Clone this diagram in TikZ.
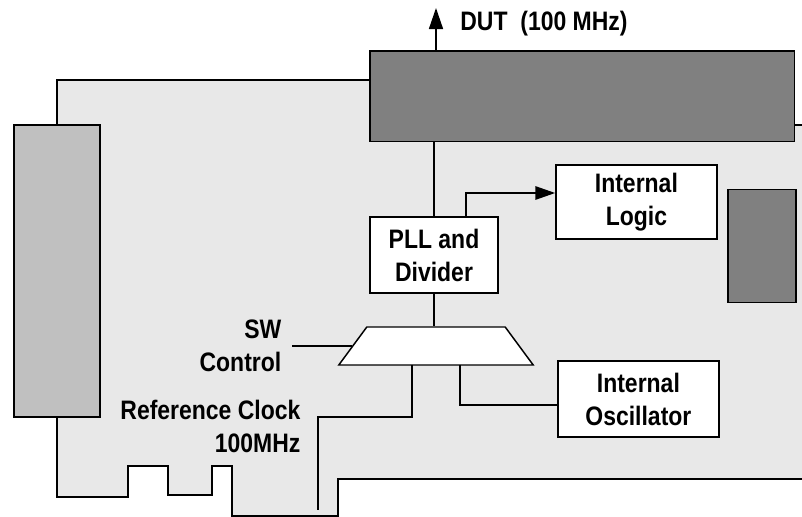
\documentclass[tikz,border=0pt]{standalone}
\usepackage{fontspec}
\setmainfont{Liberation Sans}[FakeStretch=0.86]
\usepackage{tikz}
\usetikzlibrary{arrows.meta, positioning, shapes.geometric}
\definecolor{boardgray}{HTML}{E8E8E8}
\definecolor{darkgray}{HTML}{808080}
\definecolor{midgray}{HTML}{C0C0C0}
\tikzset{
    lbl/.style={font=\fontsize{19}{23.5}\selectfont\bfseries, align=center, inner sep=0pt},
    whitebox/.style={draw, fill=white, inner sep=0pt, line width=1.05pt},
    darkbox/.style={draw, fill=darkgray, inner sep=0pt, line width=1.05pt},
}

\begin{document}
\begin{tikzpicture}[line width=1.05pt]
    \useasboundingbox (0, 0) rectangle (20.05, 12.925);

    % board outline
    \draw[fill=boardgray] (20.05, 9.8) -- (14, 9.8) -- (14, 10.925) -- (1.425, 10.925)
        -- (1.425, 0.5) -- (3.2, 0.5) -- (3.2, 1.275) -- (4.2, 1.275) -- (4.2, 0.55)
        -- (5.3, 0.55) -- (5.3, 1.275) -- (5.8, 1.275) -- (5.8, 0.025) -- (8.45, 0.025)
        -- (8.45, 0.95) -- (20.05, 0.95);

    \node[draw, fill=midgray, minimum width=2.15cm, minimum height=7.3cm] (slotbox) at (1.425, 6.15) {};
    \node[darkbox, minimum width=10.61cm, minimum height=2.26cm] (mainbox) at (14.555, 10.519) {};
    \node[darkbox, minimum width=1.7cm, minimum height=2.83cm] (sidebox) at (19.05, 6.775) {};

    \node[whitebox, minimum width=3.2cm, minimum height=1.9cm] (pll) at (10.85, 6.55) {};
    \node[lbl] (plltext) at (pll.center) {PLL and\\Divider};
    \node[whitebox, minimum width=4.025cm, minimum height=1.85cm] (logic) at (15.91, 7.875) {};
    \node[lbl] (logictext) at (logic.center) {Internal\\Logic};
    \node[whitebox, minimum width=4.025cm, minimum height=1.9cm] (osc) at (15.96, 2.95) {};
    \node[lbl] (osctext) at (osc.center) {Internal\\Oscillator};

    \node[whitebox, trapezium, trapezium stretches body=true, trapezium left angle=53.6,
        trapezium right angle=53.6, minimum width=4.86cm] (mux) at (10.9, 4.275) {\rule{0pt}{0.95cm}};

    \coordinate (dutout) at (10.9, 12.725);
    \coordinate (swin) at (7.3, 4.3);
    \coordinate (refin) at (7.95, 0.175);
    \coordinate (muxa) at (10.3, 3.8);
    \coordinate (muxb) at (11.5, 3.8);

    \draw[-{Triangle[length=15pt, width=10pt]}] (dutout |- mainbox.north) -- (dutout);
    \draw (mainbox.south -| pll.north) -- (pll.north);
    \draw[-{Triangle[length=14pt, width=9.5pt]}] ([xshift=0.8cm]pll.north) |- ([yshift=0.225cm]logic.west);
    \draw (pll.south) -- (pll.south |- mux.north);
    \draw (swin |- mux.west) -- (mux.west);
    \draw (muxa) -- ++(0, -1.3) -| (refin);
    \draw (muxb) |- ([yshift=-0.15cm]osc.west);

    \node[lbl] (dutlabel) at (13.6, 12.33) {DUT\ \ (100 MHz)};
    \node[lbl, align=right, anchor=east] (swlabel) at (7.05, 4.275) {SW\\Control};
    \node[lbl, align=right, anchor=east] (reflabel) at (7.53, 2.26) {Reference Clock\\100MHz};
\end{tikzpicture}
\end{document}
